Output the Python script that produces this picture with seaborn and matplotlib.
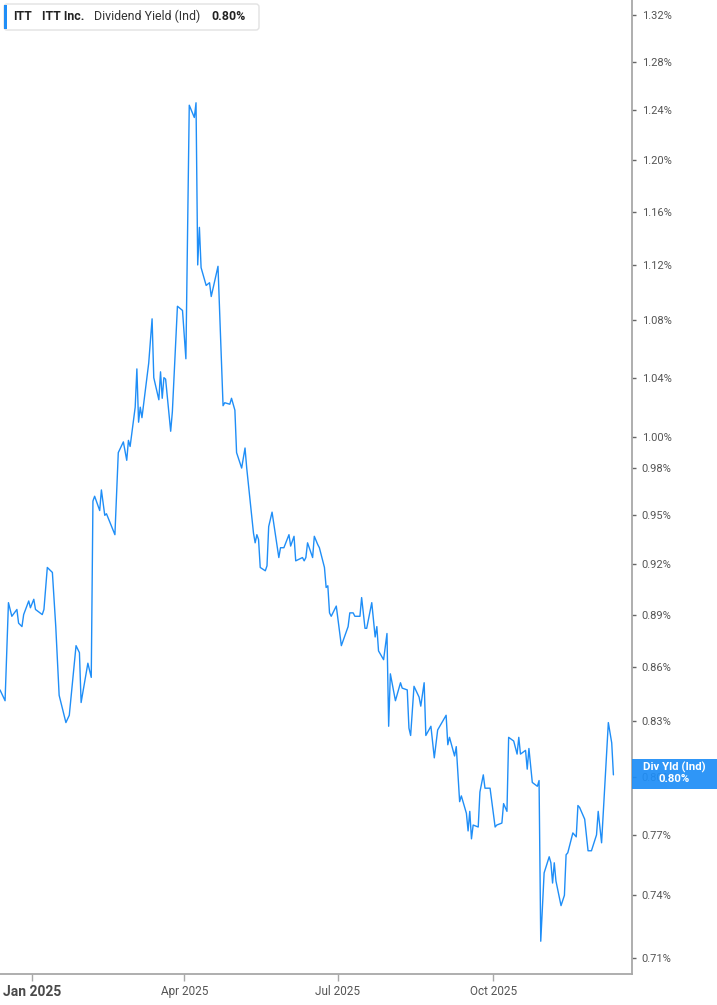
import matplotlib
matplotlib.use("Agg")
import matplotlib.pyplot as plt
from matplotlib.patches import FancyBboxPatch, Rectangle
from matplotlib.ticker import FixedLocator, NullLocator, FixedFormatter
from matplotlib.transforms import IdentityTransform
import pandas as pd
import seaborn as sns

# ---------------- data ----------------
ticker = "ITT"
company = "ITT Inc."
metric = "Dividend Yield (Ind)"
tag_label = "Div Yld (Ind)"

dates = [
"2024-12-13","2024-12-16","2024-12-18","2024-12-20","2024-12-23","2024-12-24","2024-12-26","2024-12-27","2024-12-30","2024-12-31",
"2025-01-02","2025-01-03","2025-01-07","2025-01-08","2025-01-10","2025-01-13","2025-01-15","2025-01-17","2025-01-21","2025-01-23",
"2025-01-27","2025-01-29","2025-01-30","2025-02-03","2025-02-05","2025-02-06","2025-02-07","2025-02-10","2025-02-11","2025-02-13",
"2025-02-14","2025-02-19","2025-02-21","2025-02-24","2025-02-26","2025-02-27","2025-02-28","2025-03-03","2025-03-04","2025-03-05",
"2025-03-06","2025-03-07","2025-03-11","2025-03-13","2025-03-14","2025-03-17","2025-03-18","2025-03-19","2025-03-20","2025-03-21",
"2025-03-24","2025-03-25","2025-03-28","2025-03-31","2025-04-02","2025-04-04","2025-04-07","2025-04-08","2025-04-09","2025-04-10",
"2025-04-11","2025-04-14","2025-04-16","2025-04-17","2025-04-21","2025-04-24","2025-04-25","2025-04-28","2025-04-29","2025-05-01",
"2025-05-02","2025-05-05","2025-05-07","2025-05-08","2025-05-12","2025-05-13","2025-05-14","2025-05-15","2025-05-16","2025-05-19",
"2025-05-20","2025-05-21","2025-05-23","2025-05-27","2025-05-28","2025-05-30","2025-06-02","2025-06-03","2025-06-05","2025-06-06",
"2025-06-10","2025-06-11","2025-06-12","2025-06-13","2025-06-16","2025-06-17","2025-06-19","2025-06-20","2025-06-23","2025-06-24",
"2025-06-25","2025-06-26","2025-06-27","2025-06-30","2025-07-03","2025-07-07","2025-07-08","2025-07-10","2025-07-11","2025-07-14",
"2025-07-15","2025-07-17","2025-07-18","2025-07-21","2025-07-23","2025-07-24","2025-07-25","2025-07-28","2025-07-30","2025-07-31",
"2025-08-01","2025-08-04","2025-08-07","2025-08-08","2025-08-11","2025-08-12","2025-08-13","2025-08-15","2025-08-18","2025-08-19",
"2025-08-21","2025-08-22","2025-08-25","2025-08-27","2025-08-29","2025-09-03","2025-09-04","2025-09-05","2025-09-08","2025-09-09",
"2025-09-11","2025-09-12","2025-09-15","2025-09-16","2025-09-17","2025-09-18","2025-09-19","2025-09-22","2025-09-23","2025-09-25",
"2025-09-26","2025-09-29","2025-10-02","2025-10-03","2025-10-06","2025-10-07","2025-10-09","2025-10-10","2025-10-13","2025-10-15",
"2025-10-16","2025-10-17","2025-10-20","2025-10-21","2025-10-22","2025-10-24","2025-10-27","2025-10-28","2025-10-29","2025-10-31",
"2025-11-03","2025-11-04","2025-11-05","2025-11-06","2025-11-07","2025-11-10","2025-11-12","2025-11-13","2025-11-14","2025-11-17",
"2025-11-19","2025-11-20","2025-11-21","2025-11-24","2025-11-26","2025-11-28","2025-12-01","2025-12-02","2025-12-04","2025-12-08",
"2025-12-10","2025-12-11"]

yields = [
0.847,0.841,0.897,0.889,0.893,0.885,0.883,0.890,0.898,0.894,
0.899,0.893,0.890,0.893,0.918,0.915,0.883,0.844,0.829,0.833,
0.872,0.868,0.840,0.862,0.854,0.959,0.962,0.953,0.966,0.950,
0.951,0.938,0.990,0.997,0.985,0.998,0.994,1.020,1.046,1.010,
1.020,1.013,1.050,1.081,1.040,1.025,1.044,1.026,1.040,1.039,
1.004,1.017,1.090,1.087,1.053,1.244,1.234,1.246,1.120,1.148,
1.118,1.105,1.107,1.097,1.119,1.021,1.023,1.022,1.026,1.018,
0.990,0.980,0.993,0.980,0.939,0.933,0.938,0.935,0.918,0.916,
0.919,0.943,0.952,0.924,0.930,0.930,0.938,0.931,0.937,0.922,
0.924,0.922,0.924,0.933,0.924,0.937,0.932,0.930,0.918,0.906,
0.907,0.891,0.889,0.895,0.872,0.883,0.891,0.891,0.889,0.889,
0.900,0.882,0.882,0.897,0.877,0.883,0.869,0.864,0.879,0.827,
0.856,0.841,0.851,0.848,0.847,0.826,0.822,0.849,0.843,0.838,
0.851,0.822,0.827,0.810,0.825,0.833,0.817,0.821,0.811,0.816,
0.787,0.790,0.781,0.772,0.782,0.768,0.775,0.774,0.792,0.801,
0.794,0.794,0.774,0.775,0.776,0.786,0.782,0.821,0.819,0.812,
0.821,0.812,0.814,0.804,0.815,0.797,0.795,0.798,0.718,0.751,
0.759,0.756,0.746,0.756,0.747,0.735,0.740,0.760,0.761,0.771,
0.769,0.785,0.784,0.778,0.762,0.762,0.770,0.782,0.766,0.829,
0.818,0.801]

ytick_values = [0.71, 0.74, 0.77, 0.80, 0.83, 0.86, 0.89, 0.92, 0.95, 0.98,
                1.00, 1.04, 1.08, 1.12, 1.16, 1.20, 1.24, 1.28, 1.32]
xtick_dates = ["2025-01-01", "2025-04-01", "2025-07-01", "2025-10-01"]
xtick_labels = ["Jan 2025", "Apr 2025", "Jul 2025", "Oct 2025"]

# ---------------- style ----------------
sns.set_theme(style="white")
plt.rcParams['font.family'] = ['Roboto', 'DejaVu Sans']

LINE = "#1f8ef7"
SPINE = "#a8a8a8"
TXT = "#555555"

df = pd.DataFrame({"date": pd.to_datetime(dates), "yield": yields})

W, H = 717, 1005
fig = plt.figure(figsize=(W / 100, H / 100), dpi=100)
fig.patch.set_facecolor("white")
ax_bottom_px = 974
ax_right_px = 632
ax = fig.add_axes([0, 1 - ax_bottom_px / H, ax_right_px / W, ax_bottom_px / H])
ax.set_facecolor("white")

sns.lineplot(data=df, x="date", y="yield", ax=ax, color=LINE, linewidth=1.0)

ax.set_yscale("log")
ax.set_ylim(0.7027, 1.3331)
ax.set_xlim(pd.Timestamp("2024-12-13"), pd.Timestamp("2025-12-22"))
ax.set_xlabel("")
ax.set_ylabel("")
ax.grid(False)

for s in ["left", "top"]:
    ax.spines[s].set_visible(False)
for s in ["right", "bottom"]:
    ax.spines[s].set_color(SPINE)
    ax.spines[s].set_linewidth(1.3)

ax.yaxis.tick_right()
ax.yaxis.set_major_locator(FixedLocator(ytick_values))
ax.yaxis.set_major_formatter(FixedFormatter([f"{v:.2f}%" for v in ytick_values]))
ax.yaxis.set_minor_locator(NullLocator())
ax.tick_params(axis="y", which="major", right=True, left=False, length=3, width=1,
               color="#666666", labelcolor=TXT, labelsize=8, pad=4)

xt = pd.to_datetime(xtick_dates)
ax.set_xticks(xt)
ax.set_xticklabels(xtick_labels)
ax.xaxis.set_minor_locator(NullLocator())
ax.tick_params(axis="x", which="major", bottom=True, length=5, width=1,
               color=SPINE, labelcolor=TXT, labelsize=8, pad=3)
for i, lab in enumerate(ax.get_xticklabels()):
    lab.set_family(['Liberation Sans Narrow', 'Roboto', 'DejaVu Sans'])
    if i == 0:
        lab.set_fontweight("bold")
        lab.set_fontsize(10)
        lab.set_color("#4a4a4a")
    else:
        lab.set_fontsize(8.5)

# ---------------- legend box (top-left) ----------------
ident = IdentityTransform()
box = FancyBboxPatch((4, H - 30), 255, 26, boxstyle="round,pad=0,rounding_size=3",
                     transform=ident, facecolor="white", edgecolor="#e2e2e2",
                     linewidth=1.0, zorder=5)
fig.add_artist(box)
bar = Rectangle((4, H - 29), 3, 24, transform=ident, facecolor=LINE,
                edgecolor="none", zorder=6)
fig.add_artist(bar)
ty = 1 - 16.5 / H
fs = 8.9
fig.text(13 / W, ty, ticker, fontsize=fs, fontweight="bold", color="#222222", va="center", zorder=7)
fig.text(42 / W, ty, company, fontsize=fs, fontweight="semibold", color="#222222", va="center", zorder=7)
fig.text(94 / W, ty, metric, fontsize=fs, color="#333333", va="center", zorder=7)
fig.text(211 / W, ty, f"{yields[-1]:.2f}%", fontsize=fs, fontweight="bold", color="#222222",
         va="center", zorder=7)

# ---------------- last value tag ----------------
fig.canvas.draw()
last_y_px = ax.transData.transform((ax.get_xlim()[0], yields[-1]))[1]
tag_h = 30
tag = Rectangle((ax_right_px, last_y_px - tag_h / 2 + 1), W - ax_right_px, tag_h,
                transform=ident, facecolor=LINE, edgecolor="none", alpha=0.93, zorder=8)
fig.add_artist(tag)
cx = (ax_right_px + W) / 2 / W
fig.text(cx, (last_y_px + 7) / H, tag_label, fontsize=8.2, fontweight="bold", color="white",
         ha="center", va="center", zorder=9)
fig.text(cx, (last_y_px - 4) / H, f"{yields[-1]:.2f}%", fontsize=8.2, fontweight="bold",
         color="white", ha="center", va="center", zorder=9)

fig.savefig("out.png", dpi=100, facecolor="white")
